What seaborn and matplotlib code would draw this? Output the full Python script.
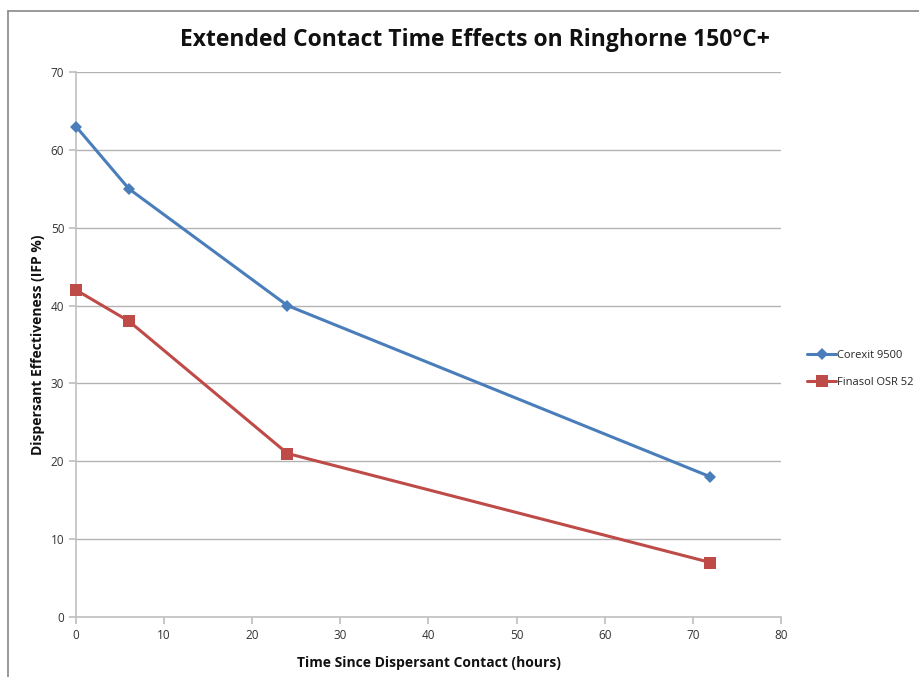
import matplotlib
matplotlib.use("Agg")
import matplotlib.pyplot as plt
from matplotlib.lines import Line2D
import seaborn as sns
import pandas as pd

hours = [0, 6, 24, 72]
corexit = [63, 55, 40, 18]
finasol = [42, 38, 21, 7]
series_names = ["Corexit 9500", "Finasol OSR 52"]
title = "Extended Contact Time Effects on Ringhorne 150°C+"
xlabel = "Time Since Dispersant Contact (hours)"
ylabel = "Dispersant Effectiveness (IFP %)"

df = pd.concat([
    pd.DataFrame({"hours": hours, "value": corexit, "series": series_names[0]}),
    pd.DataFrame({"hours": hours, "value": finasol, "series": series_names[1]}),
])

sns.set_theme(style="white")
plt.rcParams["font.family"] = ["Open Sans", "DejaVu Sans"]

fig = plt.figure(figsize=(9.2, 6.77), dpi=100)
ax = fig.add_axes([76/920, 1-617/677, (781-76)/920, (617-72)/677])

palette = {series_names[0]: "#4A7EBB", series_names[1]: "#BE4B48"}
markers = {series_names[0]: "D", series_names[1]: "s"}
sizes_m = {series_names[0]: 6, series_names[1]: 8}
for name in series_names:
    sub = df[df["series"] == name]
    sns.lineplot(data=sub, x="hours", y="value", ax=ax, color=palette[name],
                 marker=markers[name], markersize=sizes_m[name], linewidth=2.2,
                 markeredgewidth=0, label=name, clip_on=False, zorder=3)

ax.set_xlim(0, 80)
ax.set_ylim(0, 70)
ax.set_xticks(range(0, 81, 10))
ax.set_yticks(range(0, 71, 10))
ax.yaxis.grid(True, color="#b3b3b3", linewidth=1)
ax.xaxis.grid(False)
for s in ["top", "right"]:
    ax.spines[s].set_visible(False)
for s in ["left", "bottom"]:
    ax.spines[s].set_color("#c0c0c0")
    ax.spines[s].set_linewidth(1.2)
ax.tick_params(axis="both", which="both", length=5, color="#c0c0c0", labelsize=8.5,
               labelcolor="#333333", direction="out", bottom=True, left=True)
ax.set_xlabel(xlabel, fontsize=10, fontweight="bold", color="#111111", labelpad=10)
ax.set_ylabel(ylabel, fontsize=10, fontweight="bold", color="#111111", labelpad=4)

fig.text(475/920, 1-40/677, title, ha="center", va="center", fontsize=16.5,
         fontweight="bold", color="#111111")

leg = ax.legend(loc="center left", bbox_to_anchor=(805/920, 1-369/677),
                bbox_transform=fig.transFigure, frameon=False, fontsize=8,
                handlelength=2.6, handletextpad=0.1, labelspacing=1.4,
                borderaxespad=0, borderpad=0.2)

fig.add_artist(Line2D([8/920, 1], [1-11/677, 1-11/677], color="#888888", linewidth=1.2,
                      transform=fig.transFigure))
fig.add_artist(Line2D([8/920, 8/920], [0, 1-11/677], color="#888888", linewidth=1.2,
                      transform=fig.transFigure))

fig.savefig("out.png", dpi=100)
